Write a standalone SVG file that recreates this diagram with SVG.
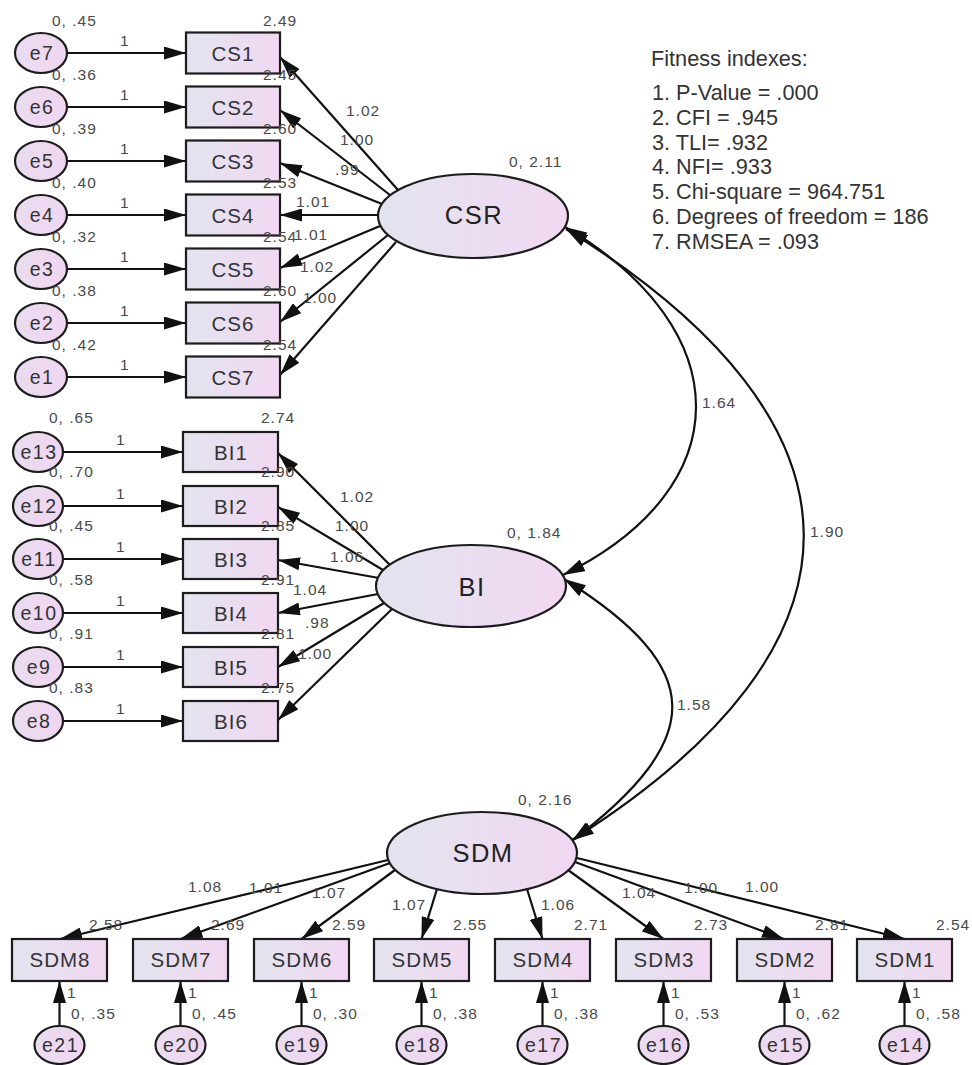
<svg xmlns="http://www.w3.org/2000/svg" width="972" height="1065" viewBox="0 0 972 1065">
<defs>
<linearGradient id="g" x1="0" y1="0" x2="1" y2="0">
<stop offset="0" stop-color="#e3e4ef"/>
<stop offset="1" stop-color="#f1d8f2"/>
</linearGradient>
<linearGradient id="ge" x1="0" y1="0" x2="1" y2="0">
<stop offset="0" stop-color="#e9dcef"/>
<stop offset="1" stop-color="#f0d6f1"/>
</linearGradient>
<marker id="ah" viewBox="0 0 22 13" refX="22" refY="6.5" markerWidth="22" markerHeight="13" markerUnits="userSpaceOnUse" orient="auto-start-reverse">
<path d="M0,0 L22,6.5 L0,13 z" fill="#111"/>
</marker>
<style>
rect, ellipse { stroke:#1c1c1c; stroke-width:2.2; fill:url(#g); }
ellipse.e { fill:url(#ge); }
text { font-family:"Liberation Sans", Arial, sans-serif; }
.lab { font-size:15.5px; fill:#4a4a4a; letter-spacing:1px; }
.nt { font-size:20.5px; fill:#333; text-anchor:middle; letter-spacing:1px; }
.et { font-size:19.5px; fill:#333; text-anchor:middle; letter-spacing:1.5px; }
.lt { font-size:25.5px; fill:#222; text-anchor:middle; letter-spacing:1.5px; }
.fit { font-size:21.7px; fill:#333; }
#connectors line, #connectors path { stroke:#111; stroke-width:2.2; fill:none; marker-end:url(#ah); }
#connectors path.cov { marker-start:url(#ah); }
</style>
</defs>
<rect x="0" y="0" width="972" height="1065" style="fill:#fff;stroke:none"/>

<g id="connectors">
<line x1="67" y1="53" x2="186" y2="53"/>
<line x1="67" y1="107" x2="186" y2="107"/>
<line x1="67" y1="161" x2="186" y2="161"/>
<line x1="67" y1="215" x2="186" y2="215"/>
<line x1="67" y1="269" x2="186" y2="269"/>
<line x1="67" y1="323" x2="186" y2="323"/>
<line x1="67" y1="377" x2="186" y2="377"/>
<line x1="398" y1="190" x2="280" y2="57"/>
<line x1="390" y1="195" x2="280" y2="110"/>
<line x1="382" y1="204" x2="280" y2="163"/>
<line x1="378" y1="215" x2="280" y2="215"/>
<line x1="380" y1="226" x2="280" y2="268"/>
<line x1="388" y1="235" x2="280" y2="322"/>
<line x1="396" y1="242" x2="280" y2="375"/>
<line x1="63" y1="452" x2="183" y2="452"/>
<line x1="63" y1="506" x2="183" y2="506"/>
<line x1="63" y1="559" x2="183" y2="559"/>
<line x1="63" y1="613" x2="183" y2="613"/>
<line x1="63" y1="667" x2="183" y2="667"/>
<line x1="63" y1="721" x2="183" y2="721"/>
<line x1="390" y1="565" x2="278" y2="453"/>
<line x1="383" y1="570" x2="278" y2="507"/>
<line x1="379" y1="578" x2="278" y2="560"/>
<line x1="378" y1="594" x2="278" y2="613"/>
<line x1="384" y1="603" x2="278" y2="667"/>
<line x1="392" y1="609" x2="278" y2="720"/>
<line x1="388" y1="860" x2="60" y2="939"/>
<line x1="390" y1="863" x2="180.5" y2="939"/>
<line x1="395" y1="870" x2="301.5" y2="939"/>
<line x1="437" y1="889" x2="421.5" y2="939"/>
<line x1="527" y1="889" x2="542.5" y2="939"/>
<line x1="568" y1="870" x2="663.5" y2="939"/>
<line x1="575" y1="862" x2="784" y2="939"/>
<line x1="577" y1="858" x2="905" y2="939"/>
<line x1="59.5" y1="1027" x2="59.5" y2="981"/>
<line x1="180.5" y1="1027" x2="180.5" y2="981"/>
<line x1="301.5" y1="1027" x2="301.5" y2="981"/>
<line x1="421.5" y1="1027" x2="421.5" y2="981"/>
<line x1="542.5" y1="1027" x2="542.5" y2="981"/>
<line x1="663.5" y1="1027" x2="663.5" y2="981"/>
<line x1="784.5" y1="1027" x2="784.5" y2="981"/>
<line x1="904.5" y1="1027" x2="904.5" y2="981"/>
<path class="cov" d="M565,227 C740,330 740,488 563,575"/>
<path class="cov" d="M566,229 C882,425 882,644 572,840"/>
<path class="cov" d="M564,579 C707,669 707,738 572,841"/>
<g class="lab">
<text x="120" y="46">1</text>
<text x="120" y="100">1</text>
<text x="120" y="154">1</text>
<text x="120" y="208">1</text>
<text x="120" y="262">1</text>
<text x="120" y="316">1</text>
<text x="120" y="370">1</text>
<text x="346" y="116">1.02</text>
<text x="340" y="145">1.00</text>
<text x="335" y="175">.99</text>
<text x="296" y="207">1.01</text>
<text x="294" y="240">1.01</text>
<text x="300" y="272">1.02</text>
<text x="303" y="303">1.00</text>
<text x="116" y="445">1</text>
<text x="116" y="499">1</text>
<text x="116" y="552">1</text>
<text x="116" y="606">1</text>
<text x="116" y="660">1</text>
<text x="116" y="714">1</text>
<text x="340" y="502">1.02</text>
<text x="335" y="531">1.00</text>
<text x="330" y="562">1.06</text>
<text x="293" y="595">1.04</text>
<text x="305" y="628">.98</text>
<text x="298" y="659">1.00</text>
<text x="188" y="892">1.08</text>
<text x="249" y="893">1.01</text>
<text x="312" y="898">1.07</text>
<text x="392" y="910">1.07</text>
<text x="541" y="910">1.06</text>
<text x="622" y="898">1.04</text>
<text x="684" y="893">1.00</text>
<text x="745" y="892">1.00</text>
<text x="67" y="998">1</text>
<text x="188" y="998">1</text>
<text x="309" y="998">1</text>
<text x="429" y="998">1</text>
<text x="550" y="998">1</text>
<text x="671" y="998">1</text>
<text x="792" y="998">1</text>
<text x="912" y="998">1</text>
<text x="702" y="408">1.64</text>
<text x="810" y="537">1.90</text>
<text x="677" y="710">1.58</text>
</g>
</g>

<g id="CSR">
<ellipse cx="473" cy="216" rx="95" ry="42"/>
<text class="lt" x="474" y="224">CSR</text>
<text class="lab" x="509" y="167">0, 2.11</text>
</g>
<g id="BI">
<ellipse cx="471" cy="586" rx="95" ry="41"/>
<text class="lt" x="472" y="596">BI</text>
<text class="lab" x="507" y="538">0, 1.84</text>
</g>
<g id="SDM">
<ellipse cx="482" cy="853" rx="95" ry="41"/>
<text class="lt" x="483" y="862">SDM</text>
<text class="lab" x="518" y="805">0, 2.16</text>
</g>

<g id="CS1"><rect x="186" y="32.5" width="94" height="41"/><text class="nt" x="233" y="61">CS1</text><text class="lab" x="263" y="26">2.49</text></g>
<g id="CS2"><rect x="186" y="86.5" width="94" height="41"/><text class="nt" x="233" y="115">CS2</text><text class="lab" x="263" y="80">2.45</text></g>
<g id="CS3"><rect x="186" y="140.5" width="94" height="41"/><text class="nt" x="233" y="169">CS3</text><text class="lab" x="263" y="134">2.60</text></g>
<g id="CS4"><rect x="186" y="194.5" width="94" height="41"/><text class="nt" x="233" y="223">CS4</text><text class="lab" x="263" y="188">2.53</text></g>
<g id="CS5"><rect x="186" y="248.5" width="94" height="41"/><text class="nt" x="233" y="277">CS5</text><text class="lab" x="263" y="242">2.54</text></g>
<g id="CS6"><rect x="186" y="302.5" width="94" height="41"/><text class="nt" x="233" y="331">CS6</text><text class="lab" x="263" y="296">2.60</text></g>
<g id="CS7"><rect x="186" y="356.5" width="94" height="41"/><text class="nt" x="233" y="385">CS7</text><text class="lab" x="263" y="350">2.54</text></g>

<g id="e7"><ellipse class="e" cx="41" cy="53" rx="26" ry="20"/><text class="et" x="42" y="60">e7</text><text class="lab" x="52" y="26">0, .45</text></g>
<g id="e6"><ellipse class="e" cx="41" cy="107" rx="26" ry="20"/><text class="et" x="42" y="114">e6</text><text class="lab" x="52" y="80">0, .36</text></g>
<g id="e5"><ellipse class="e" cx="41" cy="161" rx="26" ry="20"/><text class="et" x="42" y="168">e5</text><text class="lab" x="52" y="134">0, .39</text></g>
<g id="e4"><ellipse class="e" cx="41" cy="215" rx="26" ry="20"/><text class="et" x="42" y="222">e4</text><text class="lab" x="52" y="188">0, .40</text></g>
<g id="e3"><ellipse class="e" cx="41" cy="269" rx="26" ry="20"/><text class="et" x="42" y="276">e3</text><text class="lab" x="52" y="242">0, .32</text></g>
<g id="e2"><ellipse class="e" cx="41" cy="323" rx="26" ry="20"/><text class="et" x="42" y="330">e2</text><text class="lab" x="52" y="296">0, .38</text></g>
<g id="e1"><ellipse class="e" cx="41" cy="377" rx="26" ry="20"/><text class="et" x="42" y="384">e1</text><text class="lab" x="52" y="350">0, .42</text></g>

<g id="BI1"><rect x="183" y="432" width="95" height="40"/><text class="nt" x="231" y="460">BI1</text><text class="lab" x="261" y="423">2.74</text></g>
<g id="BI2"><rect x="183" y="486" width="95" height="40"/><text class="nt" x="231" y="514">BI2</text><text class="lab" x="261" y="477">2.90</text></g>
<g id="BI3"><rect x="183" y="539" width="95" height="40"/><text class="nt" x="231" y="567">BI3</text><text class="lab" x="261" y="531">2.85</text></g>
<g id="BI4"><rect x="183" y="593" width="95" height="40"/><text class="nt" x="231" y="621">BI4</text><text class="lab" x="261" y="585">2.91</text></g>
<g id="BI5"><rect x="183" y="647" width="95" height="40"/><text class="nt" x="231" y="675">BI5</text><text class="lab" x="261" y="639">2.81</text></g>
<g id="BI6"><rect x="183" y="701" width="95" height="40"/><text class="nt" x="231" y="729">BI6</text><text class="lab" x="261" y="693">2.75</text></g>

<g id="e13"><ellipse class="e" cx="38" cy="452" rx="25" ry="20"/><text class="et" x="39" y="459">e13</text><text class="lab" x="49" y="423">0, .65</text></g>
<g id="e12"><ellipse class="e" cx="38" cy="506" rx="25" ry="20"/><text class="et" x="39" y="513">e12</text><text class="lab" x="49" y="477">0, .70</text></g>
<g id="e11"><ellipse class="e" cx="38" cy="559" rx="25" ry="20"/><text class="et" x="39" y="566">e11</text><text class="lab" x="49" y="531">0, .45</text></g>
<g id="e10"><ellipse class="e" cx="38" cy="613" rx="25" ry="20"/><text class="et" x="39" y="620">e10</text><text class="lab" x="49" y="585">0, .58</text></g>
<g id="e9"><ellipse class="e" cx="38" cy="667" rx="25" ry="20"/><text class="et" x="39" y="674">e9</text><text class="lab" x="49" y="639">0, .91</text></g>
<g id="e8"><ellipse class="e" cx="38" cy="721" rx="25" ry="20"/><text class="et" x="39" y="728">e8</text><text class="lab" x="49" y="693">0, .83</text></g>

<g id="SDM8"><rect x="12" y="939" width="95" height="42"/><text class="nt" x="60" y="967">SDM8</text><text class="lab" x="89" y="930">2.58</text></g>
<g id="SDM7"><rect x="133" y="939" width="95" height="42"/><text class="nt" x="181" y="967">SDM7</text><text class="lab" x="211" y="930">2.69</text></g>
<g id="SDM6"><rect x="254" y="939" width="95" height="42"/><text class="nt" x="302" y="967">SDM6</text><text class="lab" x="332" y="930">2.59</text></g>
<g id="SDM5"><rect x="374" y="939" width="95" height="42"/><text class="nt" x="422" y="967">SDM5</text><text class="lab" x="453" y="930">2.55</text></g>
<g id="SDM4"><rect x="495" y="939" width="95" height="42"/><text class="nt" x="543" y="967">SDM4</text><text class="lab" x="574" y="930">2.71</text></g>
<g id="SDM3"><rect x="616" y="939" width="95" height="42"/><text class="nt" x="664" y="967">SDM3</text><text class="lab" x="694" y="930">2.73</text></g>
<g id="SDM2"><rect x="737" y="939" width="95" height="42"/><text class="nt" x="785" y="967">SDM2</text><text class="lab" x="815" y="930">2.81</text></g>
<g id="SDM1"><rect x="857" y="939" width="95" height="42"/><text class="nt" x="905" y="967">SDM1</text><text class="lab" x="936" y="930">2.54</text></g>

<g id="e21"><ellipse class="e" cx="59.5" cy="1045" rx="25" ry="19"/><text class="et" x="60.5" y="1052">e21</text><text class="lab" x="71" y="1019">0, .35</text></g>
<g id="e20"><ellipse class="e" cx="180.5" cy="1045" rx="25" ry="19"/><text class="et" x="181.5" y="1052">e20</text><text class="lab" x="192" y="1019">0, .45</text></g>
<g id="e19"><ellipse class="e" cx="301.5" cy="1045" rx="25" ry="19"/><text class="et" x="302.5" y="1052">e19</text><text class="lab" x="313" y="1019">0, .30</text></g>
<g id="e18"><ellipse class="e" cx="421.5" cy="1045" rx="25" ry="19"/><text class="et" x="422.5" y="1052">e18</text><text class="lab" x="433" y="1019">0, .38</text></g>
<g id="e17"><ellipse class="e" cx="542.5" cy="1045" rx="25" ry="19"/><text class="et" x="543.5" y="1052">e17</text><text class="lab" x="554" y="1019">0, .38</text></g>
<g id="e16"><ellipse class="e" cx="663.5" cy="1045" rx="25" ry="19"/><text class="et" x="664.5" y="1052">e16</text><text class="lab" x="675" y="1019">0, .53</text></g>
<g id="e15"><ellipse class="e" cx="784.5" cy="1045" rx="25" ry="19"/><text class="et" x="785.5" y="1052">e15</text><text class="lab" x="796" y="1019">0, .62</text></g>
<g id="e14"><ellipse class="e" cx="904.5" cy="1045" rx="25" ry="19"/><text class="et" x="905.5" y="1052">e14</text><text class="lab" x="916" y="1019">0, .58</text></g>

<g id="fitness" class="fit">
<text x="651" y="66">Fitness indexes:</text>
<text x="652" y="100">1. P-Value = .000</text>
<text x="652" y="125">2. CFI = .945</text>
<text x="652" y="150">3. TLI= .932</text>
<text x="652" y="174">4. NFI= .933</text>
<text x="652" y="199">5. Chi-square = 964.751</text>
<text x="652" y="224">6. Degrees of freedom = 186</text>
<text x="652" y="249">7. RMSEA = .093</text>
</g>
</svg>
